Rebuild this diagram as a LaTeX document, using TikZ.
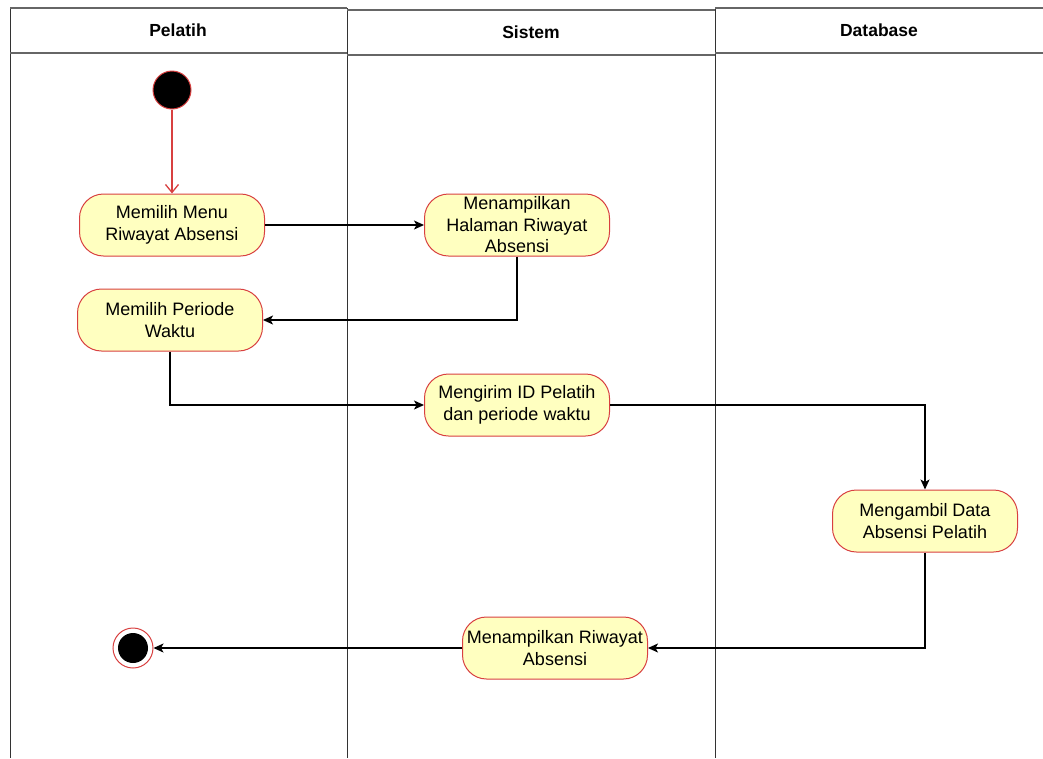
\documentclass[tikz,border=0pt]{standalone}
\usepackage{fontspec}
\setmainfont{Liberation Sans}
\usetikzlibrary{arrows.meta}
\definecolor{actfill}{HTML}{FFFFC0}
\definecolor{actline}{HTML}{D84040}
\begin{document}
\begin{tikzpicture}[x=1pt,y=-1pt,
	action/.style={draw=actline, fill=actfill, line width=1pt, rounded corners=24pt, minimum width=185pt, minimum height=62pt, align=center, inner sep=0pt, font=\fontsize{18}{21.5}\selectfont},
	flow/.style={draw=black, line width=1.4pt, -{Stealth[length=10pt,width=9pt,inset=2.5pt]}},
	lane/.style={draw=black!80, line width=0.9pt},
	headline/.style={draw=black!60, line width=1.6pt},
	head/.style={font=\fontsize{17.5}{20}\selectfont\bfseries}]
	\useasboundingbox (0,0) rectangle (1043,758);
	\begin{scope}
		\clip (0,0) rectangle (1043,758);
		% swimlanes
		\draw[lane] (10,8) -- (10,758);
		\draw[lane] (347,8) -- (347,758);
		\draw[lane] (715,8) -- (715,758);
		\draw[headline] (10,8) -- (347,8);
		\draw[headline] (347,10) -- (715,10);
		\draw[headline] (715,8) -- (1050,8);
		\draw[headline] (10,53) -- (347,53);
		\draw[headline] (347,55) -- (715,55);
		\draw[headline] (715,53) -- (1050,53);
	\end{scope}
	\node[head] (pelatih) at (178,30) {Pelatih};
	\node[head] (sistem) at (531,32) {Sistem};
	\node[head] (database) at (879,30) {Database};

	\node[circle, fill=black, draw=actline, line width=1pt, minimum size=38pt, inner sep=0pt] (start) at (172,90) {};
	\node[action] (pilihmenu) at (172,225) {Memilih Menu\\Riwayat Absensi};
	\node[action] (halaman) at (517,225) {Menampilkan\\Halaman Riwayat\\Absensi};
	\node[action] (periode) at (170,320) {Memilih Periode\\Waktu};
	\node[action] (kirim) at (517,405) {Mengirim ID Pelatih\\dan periode waktu};
	\node[action] (ambil) at (925,521) {Mengambil Data\\Absensi Pelatih};
	\node[action] (tampil) at (555,648) {Menampilkan Riwayat\\Absensi};
	\node[circle, draw=actline, line width=1pt, minimum size=40pt, inner sep=0pt,
		path picture={\fill[black] (path picture bounding box.center) circle (15pt);}] (end) at (133,648) {};

	\draw[draw=actline, line width=1.3pt, -{Straight Barb[length=8pt,width=13pt]}] (start) -- (pilihmenu);
	\draw[flow] (pilihmenu) -- (halaman);
	\draw[flow] (halaman.south) |- (periode.east);
	\draw[flow] (periode.south) |- (kirim.west);
	\draw[flow] (kirim.east) -| (ambil.north);
	\draw[flow] (ambil.south) |- (tampil.east);
	\draw[flow] (tampil) -- (end);
\end{tikzpicture}
\end{document}
